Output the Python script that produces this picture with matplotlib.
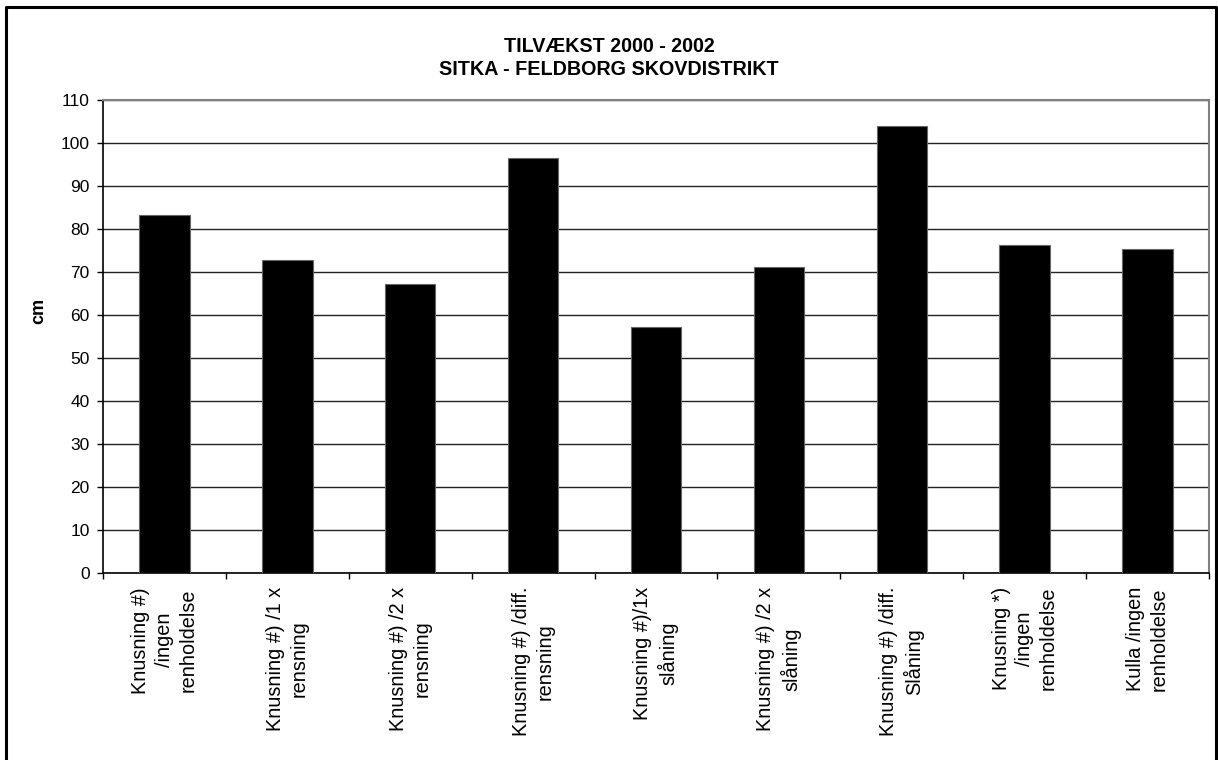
import matplotlib.pyplot as plt
from matplotlib.lines import Line2D
import numpy as np

plt.rcParams['font.family'] = ['Liberation Sans', 'DejaVu Sans']

# data
labels = [
    "Knusning #)\n/ingen\nrenholdelse",
    "Knusning #) /1 x\nrensning",
    "Knusning #) /2 x\nrensning",
    "Knusning #) /diff.\nrensning",
    "Knusning #)/1x\nslåning",
    "Knusning #) /2 x\nslåning",
    "Knusning #) /diff.\nSlåning",
    "Knusning *)\n/ingen\nrenholdelse",
    "Kulla /ingen\nrenholdelse",
]
values = [83.3, 72.8, 67.2, 96.4, 57.3, 71.2, 104.0, 76.3, 75.3]
yticks = list(range(0, 111, 10))

W, H = 1218, 760
fig = plt.figure(figsize=(W / 100, H / 100), dpi=100)
ax = fig.add_axes([103 / W, 1 - 573 / H, (1209 - 103) / W, (573 - 100) / H])

x = np.arange(len(values))
ax.bar(x, values, width=0.41, color="black", edgecolor="#666666", linewidth=0.8, zorder=3)

ax.set_xlim(-0.5, len(values) - 0.5)
ax.set_ylim(0, 110)
ax.set_yticks(yticks)
ax.set_yticklabels([str(v) for v in yticks], fontsize=12.5)
ax.yaxis.grid(True, color="#222222", linewidth=1.0, zorder=1)

ax.set_xticks(x)
ax.set_xticklabels(labels, rotation=90, fontsize=14.3, ha="center", va="top",
                   multialignment="center", linespacing=1.3)
ax.set_xticks(np.arange(-0.5, len(values), 1), minor=True)
ax.tick_params(axis="x", which="major", length=0, pad=10)
ax.tick_params(axis="x", which="minor", length=4.5, width=1, color="black", direction="out")
ax.tick_params(axis="y", length=4.5, width=1, pad=5, direction="out")

for side in ["left", "bottom"]:
    ax.spines[side].set_color("black")
    ax.spines[side].set_linewidth(1.2)
for side in ["top", "right"]:
    ax.spines[side].set_color("#808080")
    ax.spines[side].set_linewidth(1.5)

ax.set_ylabel("cm", fontsize=13, fontweight="bold")
ax.yaxis.set_label_coords(-0.05, 0.555)

fig.text(0.5, 1 - 58 / H, "TILVÆKST 2000 - 2002\nSITKA - FELDBORG SKOVDISTRIKT",
         ha="center", va="center", fontsize=14.2, fontweight="bold", linespacing=1.25)

# outer chart frame (bottom edge runs off the image)
fx = [6 / W, 6 / W, 1216 / W, 1216 / W]
fy = [-0.02, 1 - 7 / H, 1 - 7 / H, -0.02]
fig.add_artist(Line2D(fx, fy, color="black", linewidth=2.2, transform=fig.transFigure))

fig.savefig("out.png", dpi=100)
